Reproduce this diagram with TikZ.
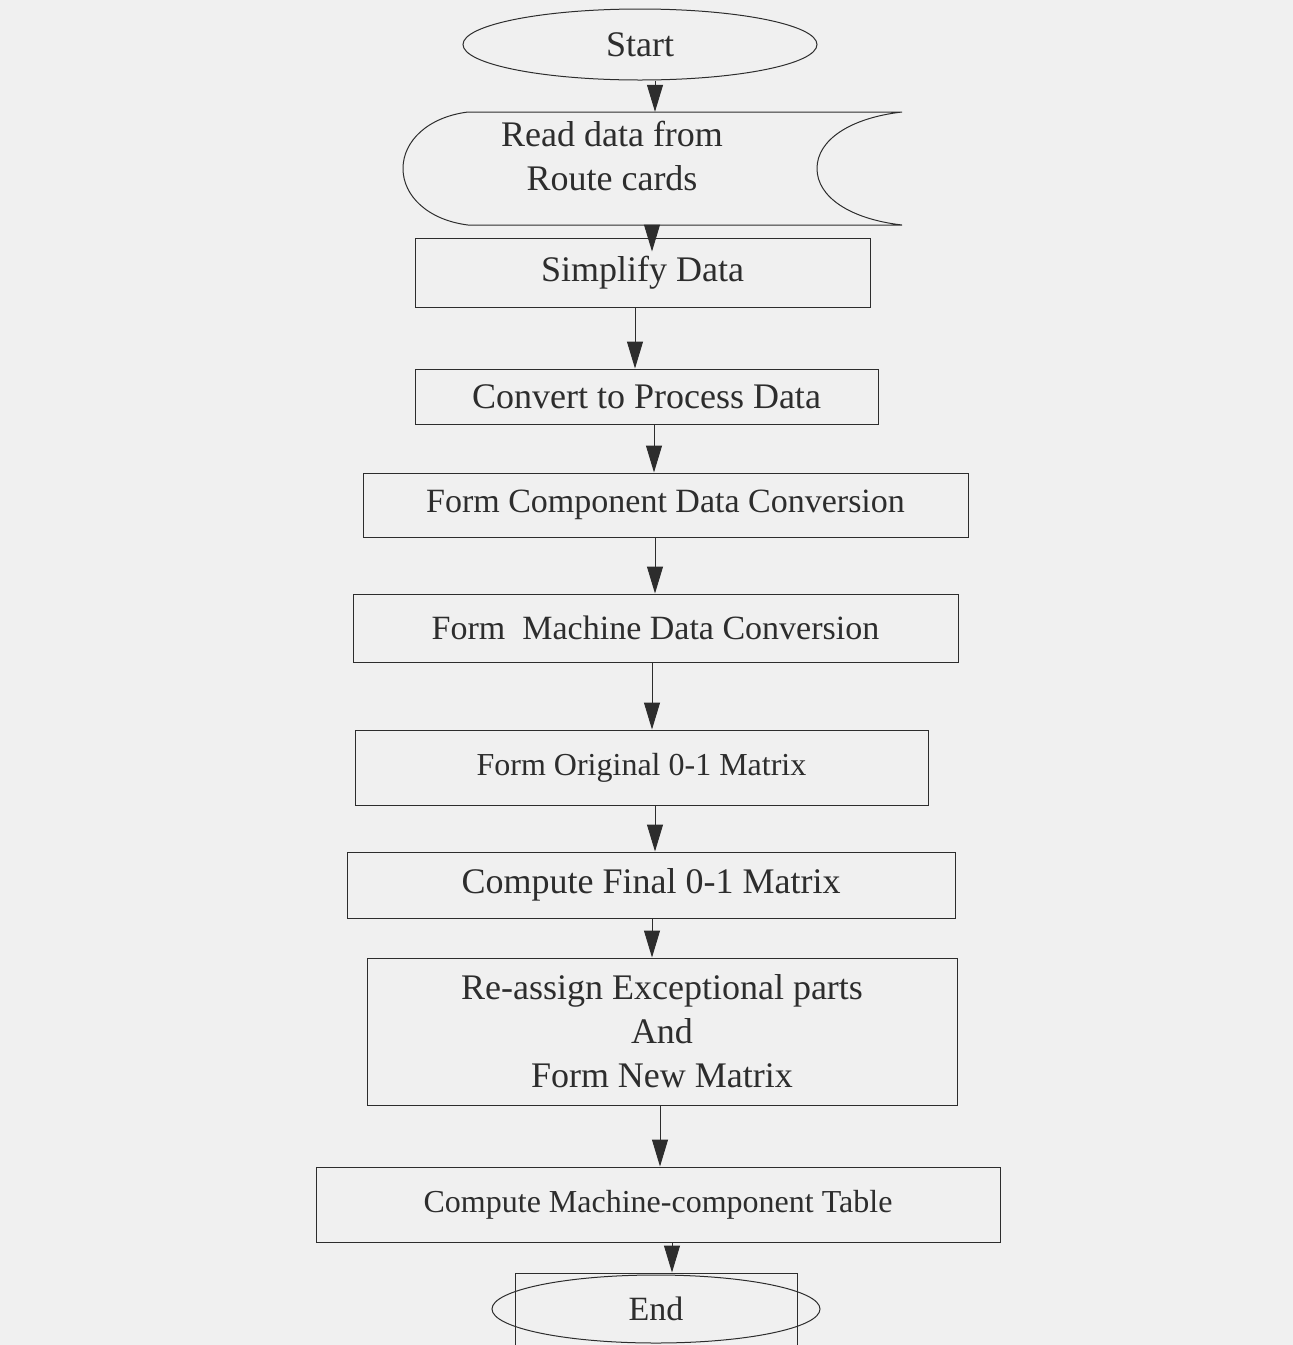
\documentclass[tikz,border=0pt]{standalone}
\usepackage{fontspec}
\setmainfont{Liberation Serif}
\usetikzlibrary{arrows.meta,shapes.geometric}
\definecolor{ink}{RGB}{45,45,45}
\definecolor{paper}{RGB}{240,240,240}
\begin{document}
\begin{tikzpicture}[x=1pt,y=-1pt,
  box/.style={draw=ink, line width=1pt, rectangle, inner sep=0pt, align=center,
    font=\fontsize{36}{44}\selectfont, text=ink},
  smallbox/.style={box, font=\fontsize{34}{42}\selectfont},
  tinybox/.style={box, font=\fontsize{32}{40}\selectfont},
  term/.style={draw=ink, line width=1pt, ellipse, inner sep=0pt,
    font=\fontsize{36}{44}\selectfont, text=ink},
  label/.style={inner sep=0pt, align=center, font=\fontsize{36}{44}\selectfont, text=ink},
  arr/.style={draw=ink, line width=1pt, -{Triangle[length=27pt,width=16pt]}}]
\useasboundingbox[fill=paper] (0,0) rectangle (1293,1345);

% nodes
\node[term, minimum width=354pt, minimum height=71pt] (start) at (640,44.5) {Start};

\node[inner sep=0pt, minimum width=499pt, minimum height=113pt] (readbox) at (652.5,168.5) {};
\draw[ink, line width=1pt]
  (468,112) -- (902,112)
  .. controls (850,118) and (817,140) .. (817,168.5)
  .. controls (817,197) and (850,219) .. (902,225)
  -- (468,225)
  .. controls (428,220) and (403,196) .. (403,168.5)
  .. controls (403,141) and (428,117) .. (468,112) -- cycle;
\node[label] (readtxt) at (612,156) {Read data from\\Route cards};

\node[box, minimum width=455pt, minimum height=69pt] (simp) at (642.5,272.5) {Simplify Data};
\node[box, minimum width=463pt, minimum height=55pt] (conv) at (646.5,396.5) {Convert to Process Data};
\node[smallbox, minimum width=605pt, minimum height=64pt] (comp) at (665.5,505) {Form Component Data Conversion};
\node[smallbox, minimum width=605pt, minimum height=68pt] (mach) at (655.5,628) {Form\ \ Machine Data Conversion};
\node[tinybox, minimum width=573pt, minimum height=75pt] (orig) at (641.5,767.5) {Form Original 0-1 Matrix};
\node[box, minimum width=608pt, minimum height=66pt] (final) at (651,885) {Compute Final 0-1 Matrix};
\node[box, minimum width=590pt, minimum height=147pt] (reas) at (662,1031.5) {Re-assign Exceptional parts\\And\\Form New Matrix};
\node[tinybox, minimum width=684pt, minimum height=75pt] (ctab) at (658,1204.5) {Compute Machine-component Table};

\node[draw=ink, line width=1pt, rectangle, inner sep=0pt, minimum width=282pt, minimum height=90pt] (endrect) at (656,1318) {};
\node[term, minimum width=328pt, minimum height=68pt, font=\fontsize{34}{42}\selectfont] (end) at (656,1309) {End};

% arrow x positions
\coordinate (c1) at (655,0);
\coordinate (c2) at (652,0);
\coordinate (c3) at (635,0);
\coordinate (c4) at (654,0);
\coordinate (c5) at (655,0);
\coordinate (c6) at (652,0);
\coordinate (c7) at (655,0);
\coordinate (c8) at (652,0);
\coordinate (c9) at (660,0);
\coordinate (c10) at (672,0);

\draw[arr] (start.south -| c1) -- (readbox.north -| c1);
\draw[arr, shorten >=-14pt] (readbox.south -| c2) -- (simp.north -| c2);
\draw[arr] (simp.south -| c3) -- (conv.north -| c3);
\draw[arr] (conv.south -| c4) -- (comp.north -| c4);
\draw[arr] (comp.south -| c5) -- (mach.north -| c5);
\draw[arr] (mach.south -| c6) -- (orig.north -| c6);
\draw[arr] (orig.south -| c7) -- (final.north -| c7);
\draw[arr] (final.south -| c8) -- (reas.north -| c8);
\draw[arr] (reas.south -| c9) -- (ctab.north -| c9);
\draw[arr] (ctab.south -| c10) -- (endrect.north -| c10);
\end{tikzpicture}
\end{document}
